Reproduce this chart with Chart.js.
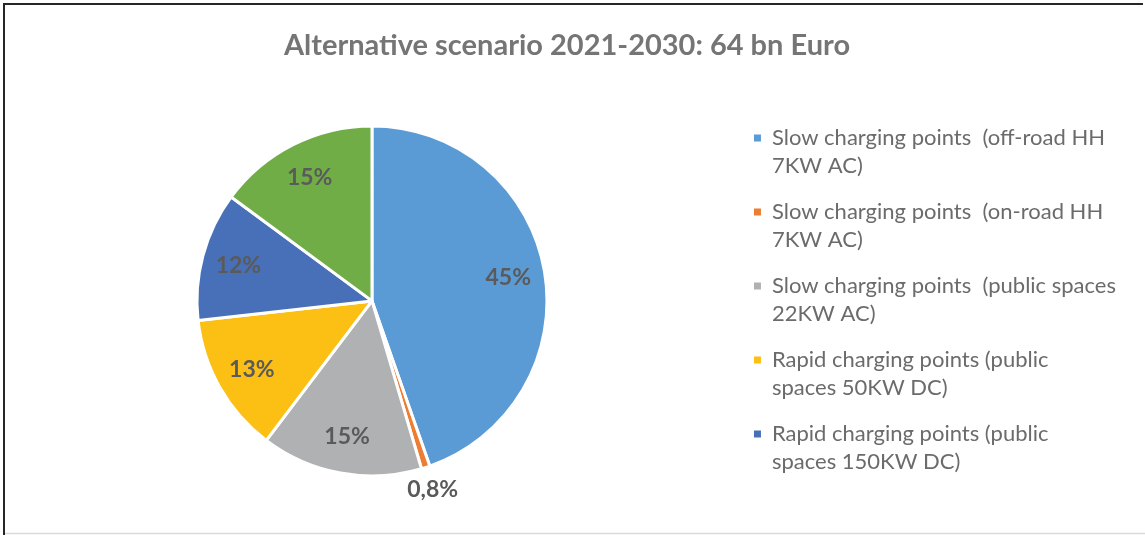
<!DOCTYPE html>
<html>
<head>
<meta charset="utf-8">
<script src="https://cdn.jsdelivr.net/npm/chart.js@4"></script>
<style>
  html, body { margin: 0; padding: 0; background: #fff; }
  #wrap { position: relative; width: 1145px; height: 535px; }
</style>
</head>
<body>
<div id="wrap"><canvas id="pieChart" width="1145" height="535"></canvas></div>
<script>
// Chart data
const chartTitle = 'Alternative scenario 2021-2030: 64 bn Euro';
const categories = [
    ['Slow charging points  (off-road HH', '7KW AC)'],
    ['Slow charging points  (on-road HH', '7KW AC)'],
    ['Slow charging points  (public spaces', '22KW AC)'],
    ['Rapid charging points (public', 'spaces 50KW DC)'],
    ['Rapid charging points (public', 'spaces 150KW DC)'],
    ['Other charging points']
];
const shares = [45, 0.8, 15, 13, 12, 15];
const sliceColors = ['#5B9BD5', '#ED7D31', '#B0B1B3', '#FCBF14', '#4870B8', '#70AD47'];
const legendCount = 5;   // the sixth entry is cut off in the original

const FONT = "Lato, 'Open Sans', sans-serif";

// frame around the chart
const framePlugin = {
    id: 'frame',
    beforeDraw(chart) {
        const ctx = chart.ctx;
        ctx.save();
        ctx.strokeStyle = '#262626';
        ctx.lineWidth = 2;
        ctx.beginPath();
        ctx.moveTo(3, 4);
        ctx.lineTo(1143, 4);
        ctx.moveTo(4, 3);
        ctx.lineTo(4, 535);
        ctx.stroke();
        ctx.strokeStyle = '#d9d9d9';
        ctx.lineWidth = 1.5;
        ctx.beginPath();
        ctx.moveTo(5, 533.5);
        ctx.lineTo(1145, 533.5);
        ctx.stroke();
        ctx.restore();
    }
};

// percentage labels on the slices
const sliceLabelPlugin = {
    id: 'sliceLabels',
    afterDatasetsDraw(chart) {
        const ctx = chart.ctx;
        const data = chart.data.datasets[0].data;
        const total = data.reduce((a, b) => a + b, 0);
        ctx.save();
        ctx.font = "bold 23px " + FONT;
        ctx.fillStyle = '#5A5A5A';
        ctx.textAlign = 'center';
        ctx.textBaseline = 'middle';
        chart.getDatasetMeta(0).data.forEach((arc, i) => {
            const p = arc.getProps(['x', 'y', 'startAngle', 'endAngle', 'outerRadius'], true);
            const mid = (p.startAngle + p.endAngle) / 2;
            const pct = data[i] / total * 100;
            const small = pct < 2;
            const dist = p.outerRadius * (small ? 1.13 : 0.79);
            const text = (small ? pct.toFixed(1).replace('.', ',') : Math.round(pct)) + '%';
            ctx.fillText(text, p.x + Math.cos(mid) * dist, p.y + Math.sin(mid) * dist);
        });
        ctx.restore();
    }
};

function initializeChart() {
    const ctx = document.getElementById('pieChart');
    const defaultLabels = Chart.overrides.pie.plugins.legend.labels.generateLabels;
    new Chart(ctx, {
        type: 'pie',
        data: {
            labels: categories,
            datasets: [{
                data: shares,
                backgroundColor: sliceColors,
                borderColor: '#ffffff',
                borderWidth: 3,
                radius: 175
            }]
        },
        options: {
            responsive: false,
            animation: false,
            layout: {
                padding: { left: 8, right: 19, top: 0, bottom: 5 }
            },
            plugins: {
                title: {
                    display: true,
                    text: chartTitle,
                    color: '#757575',
                    font: { family: FONT, size: 29, weight: 'bold' },
                    padding: { top: 28, bottom: 9 }
                },
                legend: {
                    position: 'right',
                    title: {
                        display: true,
                        text: '',
                        font: { size: 1, lineHeight: 1 },
                        padding: { top: 0, bottom: 75 }
                    },
                    labels: {
                        color: '#6B6B6B',
                        font: { family: FONT, size: 22, lineHeight: 28 / 22 },
                        boxWidth: 7,
                        boxHeight: 7,
                        padding: 18,
                        filter: item => item.index < legendCount,
                        generateLabels: chart => defaultLabels(chart).map(l => ({ ...l, lineWidth: 0 }))
                    }
                },
                tooltip: { enabled: false }
            }
        },
        plugins: [framePlugin, sliceLabelPlugin]
    });
}

document.addEventListener('DOMContentLoaded', initializeChart);
</script>
</body>
</html>
